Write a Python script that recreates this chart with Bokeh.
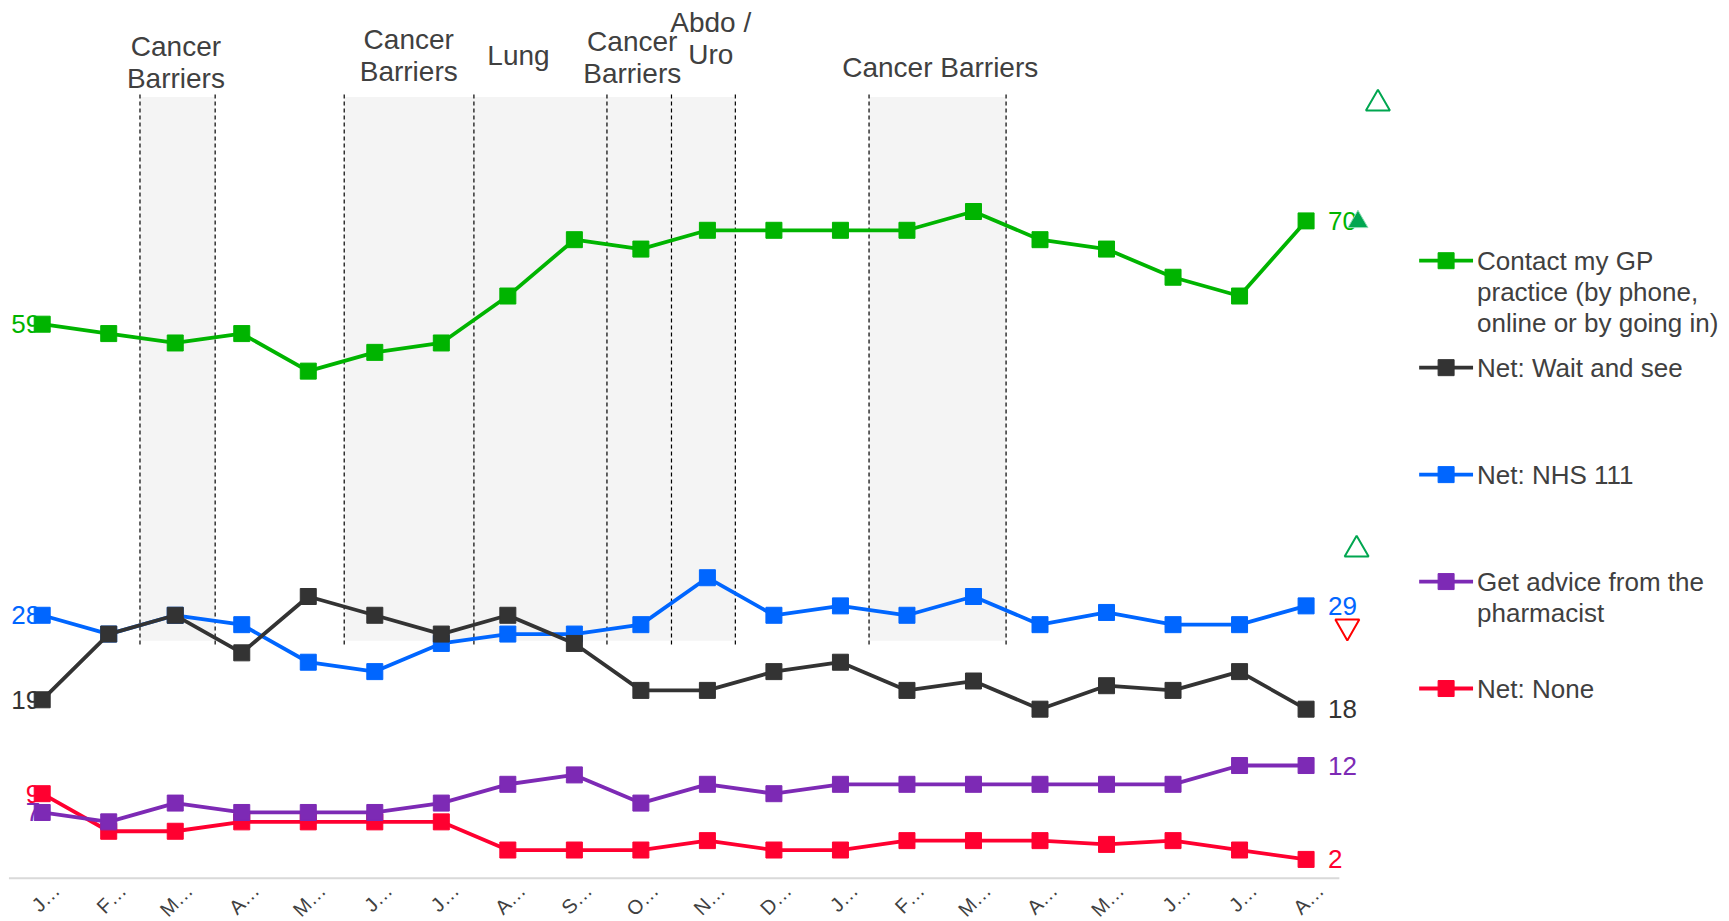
import math
from bokeh.plotting import figure
from bokeh.models import Range1d
from bokeh.core.properties import value
from bokeh.embed import file_html
from bokeh.resources import INLINE

# ---------------- data ----------------
months = ["J…", "F…", "M…", "A…", "M…", "J…", "J…", "A…", "S…", "O…",
          "N…", "D…", "J…", "F…", "M…", "A…", "M…", "J…", "J…", "A…"]

gp_practice = [59, 58, 57, 58, 54, 56, 57, 62, 68, 67, 69, 69, 69, 69, 71, 68, 67, 64, 62, 70]
wait_and_see = [19, 26, 28, 24, 30, 28, 26, 28, 25, 20, 20, 22, 23, 20, 21, 18, 20.5, 20, 22, 18]
nhs_111 = [28, 26, 28, 27, 23, 22, 25, 26, 26, 27, 32, 28, 29, 28, 30, 27, 28.3, 27, 27, 29]
pharmacist = [7, 6, 8, 7, 7, 7, 8, 10, 11, 8, 10, 9, 10, 10, 10, 10, 10, 10, 12, 12]
net_none = [9, 5, 5, 6, 6, 6, 6, 3, 3, 3, 4, 3, 3, 4, 4, 4, 3.6, 4, 3, 2]

series_names = [
    "Contact my GP\npractice (by phone,\nonline or by going in)",
    "Net: Wait and see",
    "Net: NHS 111",
    "Get advice from the\npharmacist",
    "Net: None",
]
series_values = [gp_practice, wait_and_see, nhs_111, pharmacist, net_none]
series_colors = ["#00B400", "#333333", "#0066FF", "#7D2AB5", "#FF0030"]

# campaign periods (in month-index units) and their labels
band_start = [1.47, 4.54, 6.49, 8.49, 9.46, 12.43]
band_end = [2.60, 6.49, 8.49, 9.46, 10.42, 14.49]
band_labels = ["Cancer\nBarriers", "Cancer\nBarriers", "Lung", "Cancer\nBarriers", "Abdo /\nUro", "Cancer Barriers"]
band_label_x = [2.01, 5.51, 7.16, 8.87, 10.05, 13.50]
band_label_y = [86.9, 87.6, 87.6, 87.4, 89.4, 86.3]
band_bottom, band_top = 25.3, 83.2

# significance markers
sig_up_x = [20.08, 19.78, 19.76]
sig_up_y = [82.5, 69.9, 35.0]
sig_up_filled = [False, True, False]
sig_down_x = [19.62]
sig_down_y = [26.8]

# ---------------- layout constants ----------------
W, H = 1729, 921
PX_PER_X = 66.52       # pixels per month
PX_PER_Y = 9.39        # pixels per percentage point
FIRST_X_PX = 41.7      # page x of first month
ZERO_Y_PX = 877.7      # page y of value 0

x_start = -FIRST_X_PX / PX_PER_X
x_end = x_start + W / PX_PER_X
y_end = ZERO_Y_PX / PX_PER_Y
y_start = y_end - H / PX_PER_Y

FONT = value("Liberation Sans")
TXT = "#404040"

p = figure(width=W, height=H, output_backend="svg", toolbar_location=None,
           x_range=Range1d(x_start, x_end), y_range=Range1d(y_start, y_end),
           x_axis_type=None, y_axis_type=None,
           min_border_left=0, min_border_right=0, min_border_top=0, min_border_bottom=0)
p.outline_line_color = None
p.grid.visible = False
p.background_fill_color = "white"
p.border_fill_color = "white"

# shaded campaign bands
p.quad(left=band_start, right=band_end, bottom=band_bottom, top=band_top,
       fill_color="#F4F4F4", line_color=None)
edges = sorted(set(band_start + band_end))
p.segment(x0=edges, x1=edges, y0=[band_bottom - 0.4] * len(edges), y1=[band_top + 0.5] * len(edges),
          line_color="#000000", line_width=1.2, line_dash="4 3")
p.text(x=band_label_x, y=band_label_y, text=band_labels, text_font=FONT,
       text_font_size="28px", text_color=TXT, text_align="center",
       text_baseline="middle", text_line_height=1.04)

# baseline (category axis line) and category labels
n = len(months)
xs = list(range(n))
p.segment(x0=[-0.5], x1=[n - 0.5], y0=[0], y1=[0], line_color="#D9D9D9", line_width=2)
p.text(x=xs, y=[0] * n, text=months, text_font=FONT, text_font_size="20px", text_color=TXT,
       angle=math.pi / 4, text_align="right", text_baseline="middle", x_offset=14, y_offset=9)

# start / end value labels
for vals, col in zip(series_values, series_colors):
    p.text(x=[xs[0]], y=[vals[0]], text=[f"{vals[0]:g}"], text_font=FONT, text_font_size="26px",
           text_color=col, text_align="right", text_baseline="middle", x_offset=-2)
    p.text(x=[xs[-1]], y=[vals[-1]], text=[f"{vals[-1]:g}"], text_font=FONT, text_font_size="26px",
           text_color=col, text_align="left", text_baseline="middle", x_offset=22)

# series lines + markers (bottom series first, GP on top)
for vals, col in reversed(list(zip(series_values, series_colors))):
    p.line(xs, vals, line_color=col, line_width=3.8)
    p.scatter(xs, vals, marker="square", size=16, fill_color=col, line_color=col)

# significance triangles
for x, y, filled in zip(sig_up_x, sig_up_y, sig_up_filled):
    if filled:
        p.scatter([x], [y], marker="triangle", size=20, fill_color="#00A650",
                  line_color="#8FDDB5", line_width=1)
    else:
        p.scatter([x], [y], marker="triangle", size=24, fill_alpha=0.0,
                  line_color="#00A650", line_width=2)
p.scatter(sig_down_x, sig_down_y, marker="inverted_triangle", size=24,
          fill_alpha=0.0, line_color="#FF0000", line_width=2)

# legend (manual, to mimic the reference layout)
leg_x0, leg_x1 = 20.70, 21.51
leg_mark = (leg_x0 + leg_x1) / 2
leg_text_x = 21.57
leg_y_top = 65.76
leg_step = 11.39
k = len(series_names)
leg_y = [leg_y_top - i * leg_step for i in range(k)]
p.segment(x0=[leg_x0] * k, x1=[leg_x1] * k, y0=leg_y, y1=leg_y, line_color=series_colors, line_width=3.8)
p.scatter([leg_mark] * k, leg_y, marker="square", size=16, fill_color=series_colors, line_color=series_colors)
p.text(x=[leg_text_x] * k, y=leg_y, text=series_names, text_font=FONT, text_font_size="26px",
       text_color=TXT, text_align="left", text_baseline="top", text_line_height=1.04, y_offset=-15)

open("out.html", "w").write(file_html(p, INLINE))
